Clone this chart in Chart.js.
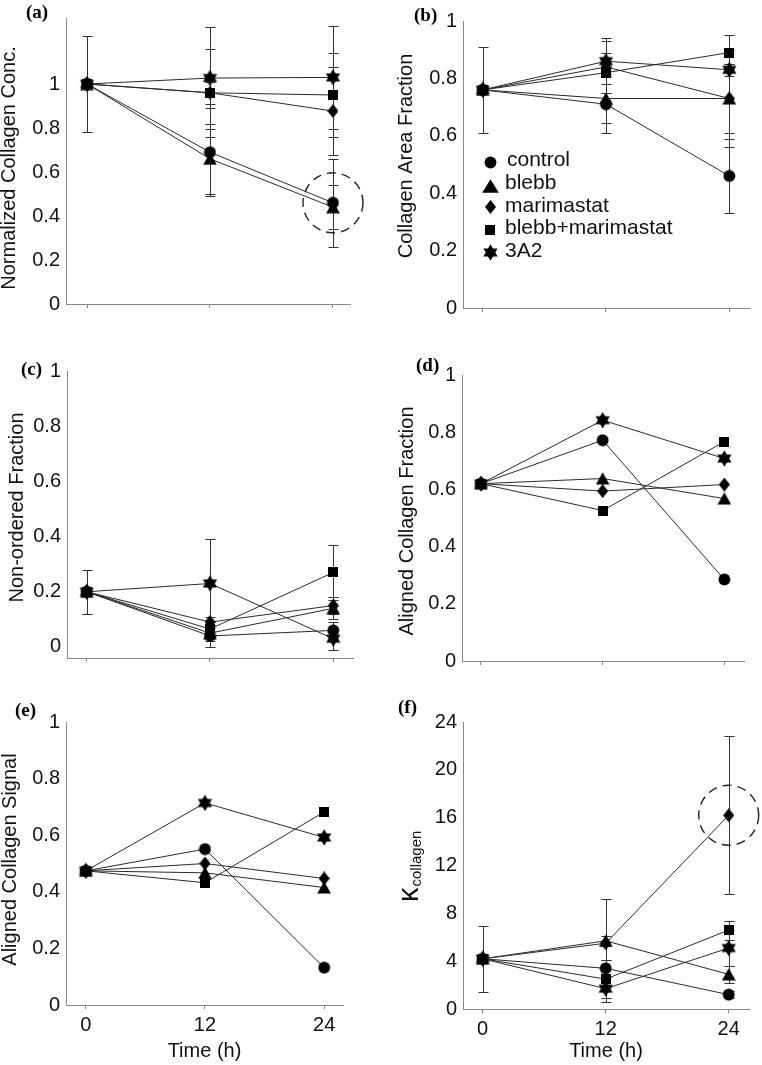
<!DOCTYPE html>
<html><head><meta charset="utf-8">
<script src="https://cdn.jsdelivr.net/npm/chart.js@4.4.1/dist/chart.umd.min.js"></script>
<style>
html,body{margin:0;padding:0;background:#fff;}
#wrap{position:relative;width:762px;height:1065px;overflow:hidden;background:#fff;}
#wrap canvas{position:absolute;}
.plab{position:absolute;font:bold 19px "Liberation Serif","Times New Roman",serif;line-height:19px;color:#000;white-space:nowrap;}
</style></head><body>
<div id="wrap">
<canvas id="ca" width="381" height="330" style="left:0;top:0"></canvas>
<canvas id="cb" width="381" height="330" style="left:381px;top:0"></canvas>
<canvas id="cc" width="381" height="350" style="left:0;top:330px"></canvas>
<canvas id="cd" width="381" height="350" style="left:381px;top:330px"></canvas>
<canvas id="ce" width="381" height="385" style="left:0;top:680px"></canvas>
<canvas id="cf" width="381" height="385" style="left:381px;top:680px"></canvas>
<div class="plab" style="left:26px;top:2px">(a)</div>
<div class="plab" style="left:414px;top:5px">(b)</div>
<div class="plab" style="left:21px;top:359px">(c)</div>
<div class="plab" style="left:416px;top:355px">(d)</div>
<div class="plab" style="left:15px;top:700px">(e)</div>
<div class="plab" style="left:398px;top:697px">(f)</div>
</div>
<script>
// ---------- data ----------
const timePoints = [0, 12, 24];
const seriesNames = ['control', 'blebb', 'marimastat', 'blebb+marimastat', '3A2'];
const fractionTicks = [0, 0.2, 0.4, 0.6, 0.8, 1];
const kappaTicks = [0, 4, 8, 12, 16, 20, 24];
const xTitleText = 'Time (h)';

// (a) Normalized Collagen Conc.
const concControl     = [1.00, 0.69, 0.46];
const concBlebb       = [1.00, 0.66, 0.44];
const concMarimastat  = [1.00, 0.96, 0.877];
const concBlebbMari   = [1.00, 0.96, 0.95];
const conc3A2         = [1.00, 1.027, 1.03];
const concControlErr    = [0.22, 0.20, 0.20];
const concBlebbErr      = [null, 0.16, 0.10];
const concMarimastatErr = [null, 0.05, 0.20];
const concBlebbMariErr  = [null, 0.20, 0.19];
const conc3A2Err        = [null, 0.23, 0.235];

// (b) Collagen Area Fraction
const areaControl    = [0.76, 0.71, 0.46];
const areaBlebb      = [0.76, 0.73, 0.73];
const areaMarimastat = [0.76, 0.84, 0.73];
const areaBlebbMari  = [0.76, 0.82, 0.89];
const area3A2        = [0.76, 0.86, 0.83];
const areaControlErr    = [0.15, 0.10, 0.13];
const areaBlebbErr      = [null, 0.085, 0.12];
const areaMarimastatErr = [null, 0.09, 0.17];
const areaBlebbMariErr  = [null, 0.07, 0.06];
const area3A2Err        = [null, 0.08, 0.02];

// (c) Non-ordered Fraction
const nonordControl    = [0.20, 0.04, 0.06];
const nonordBlebb      = [0.20, 0.05, 0.14];
const nonordMarimastat = [0.20, 0.09, 0.15];
const nonordBlebbMari  = [0.20, 0.065, 0.27];
const nonord3A2        = [0.20, 0.23, 0.03];
const nonordControlErr    = [0.08, 0.04, 0.03];
const nonordBlebbErr      = [null, 0.03, 0.04];
const nonordMarimastatErr = [null, 0.02, 0.03];
const nonordBlebbMariErr  = [null, 0.03, 0.10];
const nonord3A2Err        = [null, 0.16, 0.04];

// (d) Aligned Collagen Fraction
const alignFracControl    = [0.62, 0.772, 0.285];
const alignFracBlebb      = [0.62, 0.638, 0.568];
const alignFracMarimastat = [0.62, 0.594, 0.617];
const alignFracBlebbMari  = [0.62, 0.526, 0.767];
const alignFrac3A2        = [0.62, 0.842, 0.708];

// (e) Aligned Collagen Signal
const alignSigControl    = [0.474, 0.551, 0.132];
const alignSigBlebb      = [0.474, 0.467, 0.415];
const alignSigMarimastat = [0.474, 0.500, 0.447];
const alignSigBlebbMari  = [0.474, 0.432, 0.682];
const alignSig3A2        = [0.474, 0.714, 0.592];

// (f) kappa collagen
const kappaControl    = [4.2, 3.4, 1.2];
const kappaBlebb      = [4.2, 5.7, 2.9];
const kappaMarimastat = [4.2, 5.5, 16.2];
const kappaBlebbMari  = [4.2, 2.5, 6.6];
const kappa3A2        = [4.2, 1.7, 5.1];
const kappaControlErr    = [2.75, 0.7, 0.3];
const kappaBlebbErr      = [null, 0.4, 0.7];
const kappaMarimastatErr = [null, 3.7, 6.6];
const kappaBlebbMariErr  = [null, 1.6, 0.8];
const kappa3A2Err        = [null, 1.1, 1.5];

// ---------- markers ----------
const FONT = '"Liberation Sans", Arial, sans-serif';
function mk(w, h, draw) {
  const c = document.createElement('canvas');
  c.width = w; c.height = h;
  const g = c.getContext('2d');
  g.fillStyle = '#000';
  draw(g, w, h);
  return c;
}
function hexagram(g, cx, cy, R) {
  for (const a0 of [-90, 90]) {
    g.beginPath();
    for (let k = 0; k < 3; k++) {
      const a = (a0 + k * 120) * Math.PI / 180;
      const px = cx + R * Math.cos(a), py = cy + R * Math.sin(a);
      k ? g.lineTo(px, py) : g.moveTo(px, py);
    }
    g.closePath(); g.fill();
  }
}
const mCircle = mk(13, 13, g => { g.beginPath(); g.arc(6.5, 6.5, 5.9, 0, Math.PI * 2); g.fill(); });
const mTri = mk(14, 13, g => { g.beginPath(); g.moveTo(7, 0.3); g.lineTo(13.8, 12.6); g.lineTo(0.2, 12.6); g.closePath(); g.fill(); });
const mDia = mk(11, 14, g => { g.beginPath(); g.moveTo(5.5, 0); g.lineTo(11, 7); g.lineTo(5.5, 14); g.lineTo(0, 7); g.closePath(); g.fill(); });
const mSq = mk(10, 10, g => { g.fillRect(0, 0, 10, 10); });
const mStar = mk(17, 17, g => hexagram(g, 8.5, 8.5, 8.2));
const mTriLegend = mk(17, 14, g => { g.beginPath(); g.moveTo(8.5, 0.3); g.lineTo(16.8, 13.7); g.lineTo(0.2, 13.7); g.closePath(); g.fill(); });
const markers = [mCircle, mTri, mDia, mSq, mStar];
const legendMarkers = [mCircle, mTriLegend, mDia, mSq, mStar];

// ---------- plugins ----------
const errorBarPlugin = {
  id: 'errorBars',
  beforeDatasetsDraw(chart) {
    const { ctx, scales: { x, y } } = chart;
    ctx.save();
    ctx.strokeStyle = '#333';
    ctx.lineWidth = 1;
    chart.data.datasets.forEach(ds => {
      if (!ds.errors) return;
      ds.data.forEach((p, i) => {
        const e = ds.errors[i];
        if (e == null) return;
        const px = Math.round(x.getPixelForValue(p.x)) + 0.5;
        const t = Math.round(y.getPixelForValue(p.y + e)) + 0.5;
        const b = Math.round(y.getPixelForValue(p.y - e)) + 0.5;
        ctx.beginPath();
        ctx.moveTo(px, t); ctx.lineTo(px, b);
        ctx.moveTo(px - 5, t); ctx.lineTo(px + 5, t);
        ctx.moveTo(px - 5, b); ctx.lineTo(px + 5, b);
        ctx.stroke();
      });
    });
    ctx.restore();
  }
};
const dashCirclePlugin = {
  id: 'dashCircle',
  afterDatasetsDraw(chart, args, opts) {
    if (opts.y == null) return;
    const { ctx, scales: { x, y } } = chart;
    ctx.save();
    ctx.setLineDash([9, 6]);
    ctx.lineWidth = 1.4;
    ctx.strokeStyle = '#222';
    ctx.beginPath();
    ctx.arc(x.getPixelForValue(opts.x), y.getPixelForValue(opts.y), opts.r, 0, Math.PI * 2);
    ctx.stroke();
    ctx.restore();
  }
};
const yTitlePlugin = {
  id: 'yTitle',
  afterDraw(chart, args, opts) {
    if (!opts.text) return;
    const ctx = chart.ctx;
    ctx.save();
    ctx.fillStyle = '#111';
    ctx.translate(opts.cx, opts.cy);
    ctx.rotate(-Math.PI / 2);
    if (opts.sub) {
      ctx.textAlign = 'left';
      ctx.textBaseline = 'alphabetic';
      ctx.font = '29px ' + FONT;
      ctx.fillText(opts.text, 0, 0);
      const w = ctx.measureText(opts.text).width;
      ctx.font = '15px ' + FONT;
      ctx.fillText(opts.sub, w + 1, 3.5);
    } else {
      ctx.textAlign = 'center';
      ctx.textBaseline = 'middle';
      ctx.font = '20px ' + FONT;
      ctx.fillText(opts.text, 0, 0);
    }
    ctx.restore();
  }
};
const seriesLegendPlugin = {
  id: 'seriesLegend',
  afterDraw(chart, args, opts) {
    if (opts.x == null) return;
    const ctx = chart.ctx;
    ctx.save();
    ctx.fillStyle = '#111';
    ctx.font = '21px ' + FONT;
    ctx.textAlign = 'left';
    ctx.textBaseline = 'middle';
    seriesNames.forEach((name, i) => {
      const ty = opts.y + i * opts.step;
      const m = legendMarkers[i];
      const my = ty + (i === 1 ? 3 : 1.5);
      ctx.drawImage(m, Math.round(opts.x - m.width / 2), Math.round(my - m.height / 2));
      ctx.fillText(name, opts.textX + (i === 0 ? 2 : 0), ty);
    });
    ctx.restore();
  }
};
Chart.register(errorBarPlugin, dashCirclePlugin, yTitlePlugin, seriesLegendPlugin);

// ---------- chart builder ----------
function buildChart(id, o) {
  const cv = document.getElementById(id);
  const W = cv.width, H = cv.height, area = o.area;
  const datasets = o.series.map((vals, i) => ({
    label: seriesNames[i],
    data: vals.map((v, k) => ({ x: timePoints[k], y: v })),
    errors: o.errors ? o.errors[i] : null,
    borderColor: '#2a2a2a',
    borderWidth: 1,
    pointStyle: markers[i],
    pointRadius: 6,
    pointBackgroundColor: '#000',
    pointBorderColor: '#000',
    fill: false,
    tension: 0,
    clip: false
  }));
  return new Chart(cv, {
    type: 'line',
    data: { datasets },
    options: {
      responsive: false,
      animation: false,
      events: [],
      layout: { autoPadding: false, padding: { left: 0, top: area.top, right: W - area.right, bottom: 0 } },
      plugins: {
        legend: { display: false },
        tooltip: { enabled: false },
        yTitle: o.yTitle,
        dashCircle: o.circle || {},
        seriesLegend: o.legend || {}
      },
      scales: {
        x: {
          type: 'linear', min: o.xMin, max: o.xMax,
          afterBuildTicks: s => { s.ticks = timePoints.map(v => ({ value: v })); },
          afterFit: s => { s.height = H - area.bottom; },
          grid: { display: true, drawOnChartArea: false, drawTicks: true, tickLength: 4, color: '#888', lineWidth: 1 },
          border: { display: true, color: '#888', width: 1 },
          ticks: { display: !!o.xLabels, padding: 4, color: '#111', font: { family: FONT, size: 20 }, callback: v => String(v) },
          title: { display: !!o.xLabels, text: xTitleText, color: '#111', font: { family: FONT, size: 20 }, padding: { top: 0, bottom: 2 } }
        },
        y: {
          type: 'linear', min: o.yMin, max: o.yMax,
          afterBuildTicks: s => { s.ticks = o.yTicks.map(v => ({ value: v })); },
          afterFit: s => { s.width = area.left; },
          grid: { display: false, drawTicks: false },
          border: { display: true, color: '#888', width: 1 },
          ticks: { padding: 6, color: '#111', font: { family: FONT, size: 20 }, callback: v => String(v) }
        }
      }
    }
  });
}

buildChart('ca', {
  area: { left: 66, top: 18, right: 350, bottom: 304 },
  xMin: -2.05, xMax: 25.66, yMin: 0, yMax: 1.3, yTicks: fractionTicks,
  series: [concControl, concBlebb, concMarimastat, concBlebbMari, conc3A2],
  errors: [concControlErr, concBlebbErr, concMarimastatErr, concBlebbMariErr, conc3A2Err],
  yTitle: { text: 'Normalized Collagen Conc.', cx: 9, cy: 168 },
  circle: { x: timePoints[2], y: concControl[2], r: 30 }
});
buildChart('cb', {
  area: { left: 82, top: 21, right: 368, bottom: 308 },
  xMin: -1.92, xMax: 25.92, yMin: 0, yMax: 1, yTicks: fractionTicks,
  series: [areaControl, areaBlebb, areaMarimastat, areaBlebbMari, area3A2],
  errors: [areaControlErr, areaBlebbErr, areaMarimastatErr, areaBlebbMariErr, area3A2Err],
  yTitle: { text: 'Collagen Area Fraction', cx: 25.5, cy: 156 },
  legend: { x: 109, textX: 124, y: 160.7, step: 22.6 }
});
buildChart('cc', {
  area: { left: 67, top: 41, right: 353, bottom: 328 },
  xMin: -1.92, xMax: 25.92, yMin: -0.04, yMax: 1, yTicks: fractionTicks,
  series: [nonordControl, nonordBlebb, nonordMarimastat, nonordBlebbMari, nonord3A2],
  errors: [nonordControlErr, nonordBlebbErr, nonordMarimastatErr, nonordBlebbMariErr, nonord3A2Err],
  yTitle: { text: 'Non-ordered Fraction', cx: 17.5, cy: 177.5 }
});
buildChart('cd', {
  area: { left: 81, top: 45, right: 363, bottom: 331 },
  xMin: -1.87, xMax: 25.94, yMin: 0, yMax: 1, yTicks: fractionTicks,
  series: [alignFracControl, alignFracBlebb, alignFracMarimastat, alignFracBlebbMari, alignFrac3A2],
  yTitle: { text: 'Aligned Collagen Fraction', cx: 26, cy: 191 }
});
buildChart('ce', {
  area: { left: 66, top: 42, right: 343, bottom: 325 },
  xMin: -2.0, xMax: 25.9, yMin: 0, yMax: 1, yTicks: fractionTicks, xLabels: true,
  series: [alignSigControl, alignSigBlebb, alignSigMarimastat, alignSigBlebbMari, alignSig3A2],
  yTitle: { text: 'Aligned Collagen Signal', cx: 10.5, cy: 179.5 }
});
buildChart('cf', {
  area: { left: 82, top: 42, right: 368, bottom: 329 },
  xMin: -1.92, xMax: 25.98, yMin: 0, yMax: 24, yTicks: kappaTicks, xLabels: true,
  series: [kappaControl, kappaBlebb, kappaMarimastat, kappaBlebbMari, kappa3A2],
  errors: [kappaControlErr, kappaBlebbErr, kappaMarimastatErr, kappaBlebbMariErr, kappa3A2Err],
  yTitle: { text: 'κ', sub: 'collagen', cx: 36.7, cy: 222 },
  circle: { x: timePoints[2], y: kappaMarimastat[2], r: 30 }
});
</script>
</body></html>
